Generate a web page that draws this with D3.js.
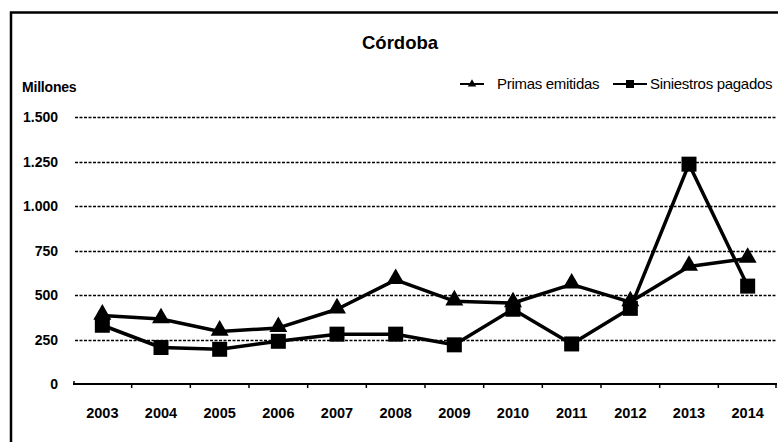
<!DOCTYPE html>
<html>
<head>
<meta charset="utf-8">
<script src="https://cdn.jsdelivr.net/npm/d3@7"></script>
<style>
  body { margin: 0; background: #fff; }
  svg { display: block; font-family: "Liberation Sans", Arial, sans-serif; }
</style>
</head>
<body>
<div id="chart"></div>
<script>
const years = ['2003', '2004', '2005', '2006', '2007', '2008', '2009', '2010', '2011', '2012', '2013', '2014'];
const primas = [385, 365, 295, 315, 420, 585, 465, 455, 560, 460, 660, 705];
const siniestros = [330, 205, 195, 240, 280, 280, 220, 420, 225, 425, 1235, 550];
const yTicks = [0, 250, 500, 750, 1000, 1250, 1500];
const yTickLabels = ['0', '250', '500', '750', '1.000', '1.250', '1.500'];

const W = 778, H = 442;
const MARGIN = {TOP: 117, BOTTOM: 58, LEFT: 73, RIGHT: 1};

const svg = d3.select('#chart').append('svg')
  .attr('width', W)
  .attr('height', H);

// frame (top and left edges only visible in the scan)
svg.append('path')
  .attr('d', `M11,${H} V12.5 H${W}`)
  .attr('fill', 'none')
  .attr('stroke', '#000')
  .attr('stroke-width', 2.5);

const x = d3.scaleBand()
  .domain(years)
  .range([MARGIN.LEFT, W - MARGIN.RIGHT]);

const y = d3.scaleLinear()
  .domain([0, 1500])
  .range([H - MARGIN.BOTTOM, MARGIN.TOP]);

// gridlines
svg.append('g')
  .selectAll('line')
  .data(yTicks.filter(d => d > 0))
  .join('line')
    .attr('x1', MARGIN.LEFT + 2)
    .attr('x2', W - MARGIN.RIGHT)
    .attr('y1', d => Math.round(y(d)) + 0.5)
    .attr('y2', d => Math.round(y(d)) + 0.5)
    .attr('stroke', '#000')
    .attr('stroke-width', 1.6)
    .attr('stroke-dasharray', '3,1.5');

// y labels
svg.append('g')
  .selectAll('text')
  .data(yTicks)
  .join('text')
    .attr('x', 58)
    .attr('y', d => y(d) + 5)
    .attr('text-anchor', 'end')
    .attr('font-size', 14)
    .attr('font-weight', 'bold')
    .text((d, i) => yTickLabels[i]);

// x axis
const xAxisGroup = svg.append('g')
  .attr('transform', `translate(0, ${y(0)})`);

xAxisGroup.append('line')
  .attr('x1', MARGIN.LEFT)
  .attr('x2', W - MARGIN.RIGHT)
  .attr('stroke', '#000')
  .attr('stroke-width', 2.2);

xAxisGroup.selectAll('.tick')
  .data(years.slice(1).concat(['end']))
  .join('line')
    .attr('x1', (d, i) => i < years.length - 1 ? x(d) : W - MARGIN.RIGHT - 1)
    .attr('x2', (d, i) => i < years.length - 1 ? x(d) : W - MARGIN.RIGHT - 1)
    .attr('y1', 0)
    .attr('y2', 4)
    .attr('stroke', '#000')
    .attr('stroke-width', 1.5);

xAxisGroup.append('line')
  .attr('x1', MARGIN.LEFT + 1).attr('x2', MARGIN.LEFT + 1)
  .attr('y1', -3).attr('y2', 1)
  .attr('stroke', '#000').attr('stroke-width', 1.5);

xAxisGroup.selectAll('text')
  .data(years)
  .join('text')
    .attr('x', d => x(d) + x.bandwidth() / 2)
    .attr('y', 34)
    .attr('text-anchor', 'middle')
    .attr('font-size', 14.5)
    .attr('font-weight', 'bold')
    .text(d => d);

const cx = d => x(d) + x.bandwidth() / 2;
const line = d3.line()
  .x((d, i) => cx(years[i]))
  .y(d => y(d));

const triangle = d3.symbol().type(d3.symbolTriangle).size(140);

// Primas emitidas
svg.append('path')
  .datum(primas)
  .attr('d', line)
  .attr('fill', 'none')
  .attr('stroke', '#000')
  .attr('stroke-width', 3.5)
  .attr('stroke-linejoin', 'round');

svg.append('g')
  .selectAll('path')
  .data(primas)
  .join('path')
    .attr('d', triangle)
    .attr('transform', (d, i) => `translate(${cx(years[i])}, ${y(d) - 1})`)
    .attr('fill', '#000');

// Siniestros pagados
svg.append('path')
  .datum(siniestros)
  .attr('d', line)
  .attr('fill', 'none')
  .attr('stroke', '#000')
  .attr('stroke-width', 3.5)
  .attr('stroke-linejoin', 'round');

svg.append('g')
  .selectAll('rect')
  .data(siniestros)
  .join('rect')
    .attr('x', (d, i) => cx(years[i]) - 7.5)
    .attr('y', d => y(d) - 7.5)
    .attr('width', 15)
    .attr('height', 15)
    .attr('fill', '#000');

// title
svg.append('text')
  .attr('x', 400)
  .attr('y', 49)
  .attr('text-anchor', 'middle')
  .attr('font-size', 18.5)
  .attr('font-weight', 'bold')
  .text('Córdoba');

svg.append('text')
  .attr('x', 22)
  .attr('y', 92)
  .attr('font-size', 14)
  .attr('font-weight', 'bold')
  .attr('letter-spacing', -0.2)
  .text('Millones');

// legend
const legend = svg.append('g').attr('transform', 'translate(0, 84)');

legend.append('line')
  .attr('x1', 460).attr('x2', 484)
  .attr('stroke', '#000').attr('stroke-width', 2);
legend.append('path')
  .attr('d', d3.symbol().type(d3.symbolTriangle).size(30))
  .attr('transform', 'translate(472, 0)');
legend.append('text')
  .attr('x', 497).attr('y', 5)
  .attr('font-size', 15)
  .attr('letter-spacing', -0.3)
  .text('Primas emitidas');

legend.append('line')
  .attr('x1', 613).attr('x2', 647)
  .attr('stroke', '#000').attr('stroke-width', 2);
legend.append('rect')
  .attr('x', 626).attr('y', -4).attr('width', 8).attr('height', 8);
legend.append('text')
  .attr('x', 650).attr('y', 5)
  .attr('font-size', 15)
  .attr('letter-spacing', -0.3)
  .text('Siniestros pagados');
</script>
</body>
</html>
